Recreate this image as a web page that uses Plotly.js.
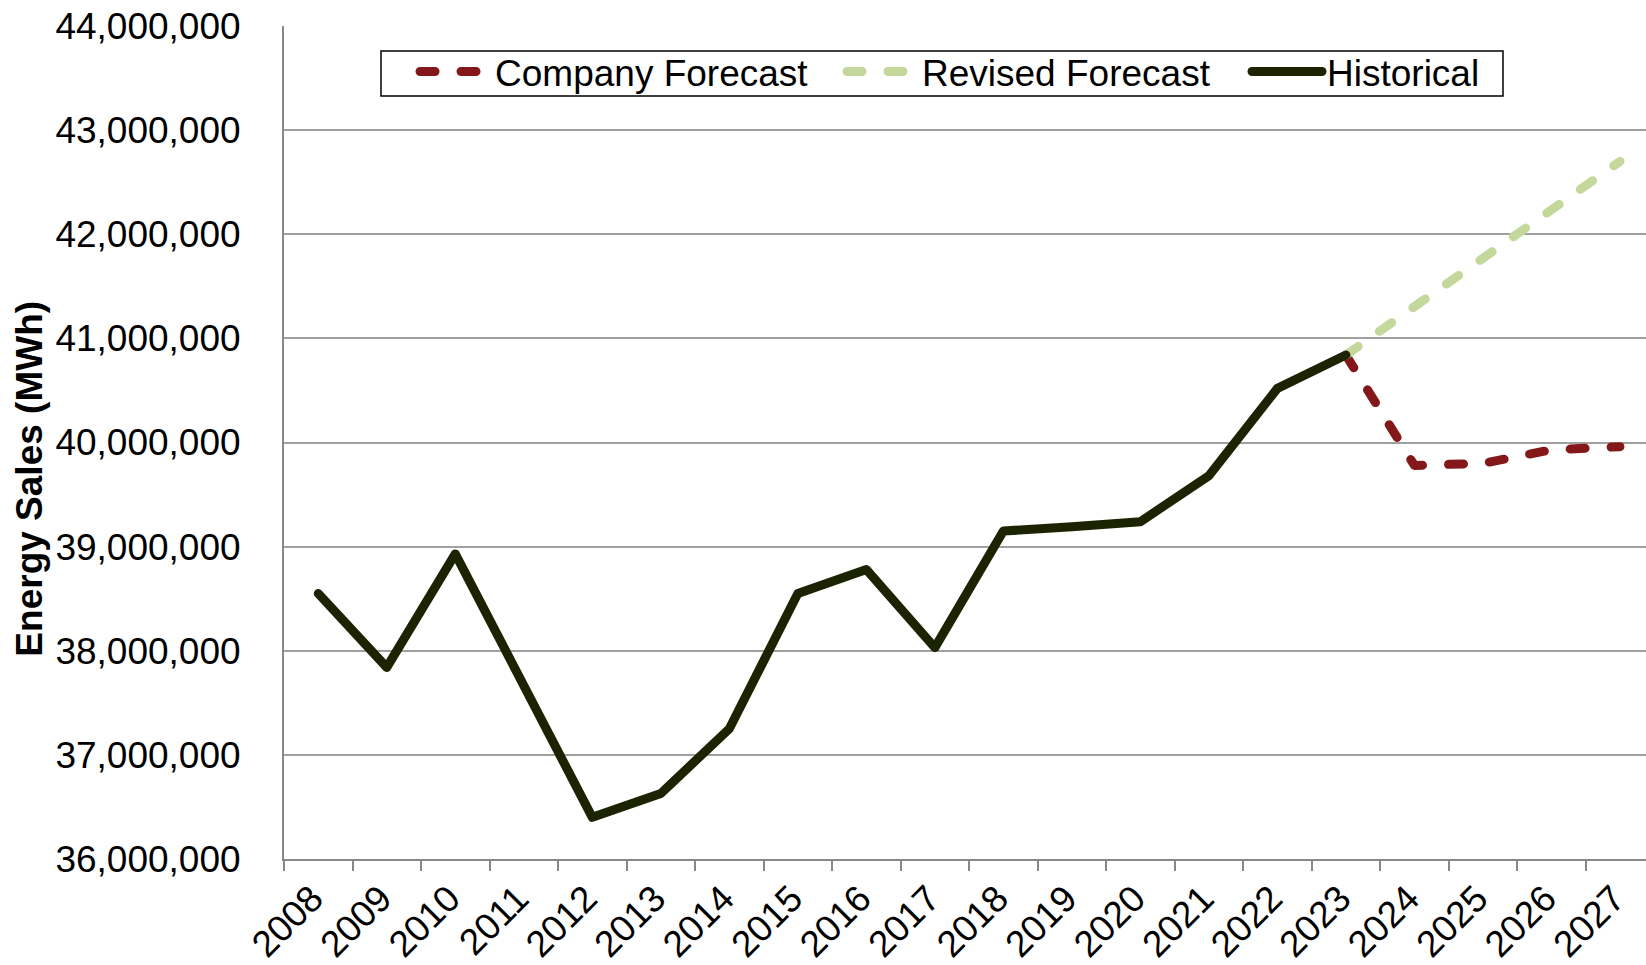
<!DOCTYPE html>
<html>
<head>
<meta charset="utf-8">
<script src="https://cdn.plot.ly/plotly-3.0.1.min.js"></script>
<style>
html, body { margin: 0; padding: 0; background: #fff; }
#chart { width: 1646px; height: 965px; }
#chart .js-line { stroke-linecap: round; stroke-linejoin: round; }
</style>
</head>
<body>
<div id="chart"></div>
<script>
const years = ['2008','2009','2010','2011','2012','2013','2014','2015','2016','2017',
               '2018','2019','2020','2021','2022','2023','2024','2025','2026','2027'];
const historicalYears = years.slice(0, 16);
const historical = [38550000, 37840000, 38930000, 37650000, 36400000, 36630000, 37250000,
                    38550000, 38780000, 38030000, 39150000, 39190000, 39240000, 39680000,
                    40520000, 40840000];
const forecastYears = ['2023','2024','2025','2026','2027'];
const companyForecast = [40840000, 39780000, 39800000, 39930000, 39960000];
const revisedForecast = [40840000, 41300000, 41770000, 42230000, 42700000];
const yTicks = [36000000, 37000000, 38000000, 39000000, 40000000, 41000000, 42000000, 43000000, 44000000];

const FONT = 'Liberation Sans, Arial, sans-serif';
const FS = 37;

const traces = [
  { x: forecastYears, y: companyForecast, name: 'Company Forecast', type: 'scatter', mode: 'lines',
    legendwidth: 342,
    line: { color: '#84171a', width: 9, dash: '15px,26px' } },
  { x: forecastYears, y: revisedForecast, name: 'Revised Forecast', type: 'scatter', mode: 'lines',
    legendwidth: 320,
    line: { color: '#c4d89b', width: 9, dash: '15px,26px' } },
  { x: historicalYears, y: historical, name: 'Historical', type: 'scatter', mode: 'lines',
    line: { color: '#1c2300', width: 9 } }
];

const layout = {
  width: 1646, height: 965,
  margin: { l: 284, r: 0, t: 26, b: 106 },
  paper_bgcolor: '#ffffff', plot_bgcolor: '#ffffff',
  font: { family: FONT, size: FS, color: '#000' },
  showlegend: true,
  legend: {
    orientation: 'h', x: 0.0962, y: 0.982, xanchor: 'left', yanchor: 'top',
    borderwidth: 0, bgcolor: 'rgba(0,0,0,0)',
    font: { family: FONT, size: FS, color: '#000' },
    itemwidth: 70, traceorder: 'normal'
  },
  shapes: [
    { type: 'rect', xref: 'paper', yref: 'paper', layer: 'below',
      x0: (381 - 284) / 1362, x1: (1503 - 284) / 1362,
      y0: (859 - 96) / 833, y1: (859 - 51) / 833,
      line: { color: '#000', width: 1.5 }, fillcolor: '#ffffff' }
  ],
  xaxis: {
    type: 'category', categoryorder: 'array', categoryarray: years,
    range: [-0.5, 19.38],
    tickangle: -45, tickson: 'boundaries', ticks: 'outside', ticklen: 10, tickwidth: 2, tickcolor: '#888',
    showline: true, linecolor: '#888', linewidth: 2, showgrid: false, zeroline: false,
    tickfont: { family: FONT, size: FS, color: '#000' },
    ticklabelstandoff: 1, ticklabelshift: -6, fixedrange: true
  },
  yaxis: {
    range: [36000000, 44000000], tickmode: 'array', tickvals: yTicks, tickformat: ',d',
    showline: true, linecolor: '#888', linewidth: 2, ticks: '',
    showgrid: true, gridcolor: '#a0a0a0', gridwidth: 2, zeroline: false,
    tickfont: { family: FONT, size: FS, color: '#000' },
    ticklabelstandoff: 34, fixedrange: true
  },
  annotations: [
    { text: '<b>Energy Sales (MWh)</b>', xref: 'paper', yref: 'paper', x: -0.187, y: 0.457,
      xanchor: 'center', yanchor: 'middle', textangle: -90, showarrow: false,
      font: { family: FONT, size: FS, color: '#000' } }
  ]
};

Plotly.newPlot('chart', traces, layout, { displayModeBar: false, staticPlot: true });
</script>
</body>
</html>
